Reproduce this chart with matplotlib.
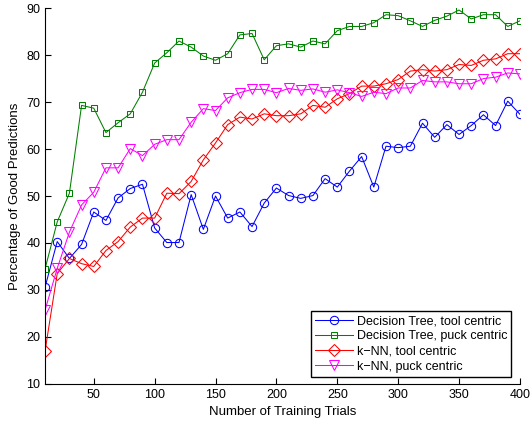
import matplotlib
matplotlib.use("Agg")
import matplotlib.pyplot as plt

plt.rcParams["font.family"] = ["Liberation Sans", "DejaVu Sans"]

trials = list(range(10, 401, 10))

dt_tool = [30.6, 40.3, 36.7, 39.7, 46.6, 44.8, 49.6, 51.6, 52.5, 43.2,
           40.1, 40.1, 50.3, 42.9, 50.0, 45.3, 46.6, 43.5, 48.5, 51.7,
           50.1, 49.5, 50.1, 53.7, 51.9, 55.3, 58.4, 51.9, 60.6, 60.3,
           60.6, 65.5, 62.5, 65.2, 63.1, 65.0, 67.3, 65.0, 70.2, 67.4]

dt_puck = [34.5, 44.5, 50.6, 69.3, 68.7, 63.5, 65.6, 67.5, 72.1, 78.3,
           80.5, 83.0, 81.7, 79.8, 78.9, 80.3, 84.3, 84.6, 79.0, 82.0,
           82.4, 81.7, 83.0, 82.4, 85.2, 86.1, 86.1, 86.9, 88.6, 88.4,
           87.3, 86.1, 87.4, 88.3, 89.6, 87.7, 88.6, 88.6, 86.1, 87.3]

knn_tool = [17.0, 33.5, 36.7, 35.6, 35.0, 38.4, 40.3, 43.4, 45.3, 45.3,
            50.6, 50.5, 53.1, 57.7, 61.3, 65.2, 66.8, 66.4, 67.5, 67.1,
            67.1, 67.5, 69.3, 68.9, 70.7, 71.8, 73.4, 73.4, 73.9, 74.8,
            76.6, 76.9, 76.6, 76.9, 78.0, 77.8, 78.9, 79.2, 80.3, 80.3]

knn_puck = [25.7, 34.6, 42.3, 48.1, 50.8, 56.0, 56.0, 60.1, 58.6, 61.0,
            62.0, 62.0, 65.7, 68.6, 68.2, 70.9, 72.0, 72.7, 72.7, 72.0,
            72.9, 72.5, 72.8, 72.1, 72.6, 72.0, 71.2, 72.1, 71.8, 73.0,
            73.0, 74.6, 74.3, 74.3, 73.9, 73.9, 75.0, 75.3, 76.2, 76.0]

labels = ["Decision Tree, tool centric", "Decision Tree, puck centric",
          "k\u2212NN, tool centric", "k\u2212NN, puck centric"]

fig = plt.figure(figsize=(5.3, 4.28), dpi=100)
ax = fig.add_axes([0.085, 0.103, 0.896, 0.878])

lw = 0.75
mew = 0.75
ax.plot(trials, dt_tool, color="blue", marker="o", ms=6, mfc="none", mew=mew, lw=lw, label=labels[0])
ax.plot(trials, dt_puck, color="green", marker="s", ms=4.8, mfc="none", mew=mew, lw=lw, label=labels[1])
ax.plot(trials, knn_tool, color="red", marker="D", ms=5.8, mfc="none", mew=mew, lw=lw, label=labels[2])
ax.plot(trials, knn_puck, color="magenta", marker="v", ms=7, mfc="none", mew=mew, lw=lw, label=labels[3])

ax.set_xlim(10, 400)
ax.set_ylim(10, 90)
ax.set_xticks([50, 100, 150, 200, 250, 300, 350, 400])
ax.set_yticks(range(10, 91, 10))
ax.spines["top"].set_visible(False)
ax.spines["right"].set_visible(False)
ax.tick_params(direction="in", length=4, labelsize=9)
ax.set_xlabel("Number of Training Trials", fontsize=9.5)
ax.set_ylabel("Percentage of Good Predictions", fontsize=9.5)

leg = ax.legend(loc="lower right", bbox_to_anchor=(0.982, 0.018), fontsize=9,
                fancybox=False, edgecolor="black", framealpha=1,
                borderpad=0.35, labelspacing=0.26, handlelength=3.0,
                handletextpad=0.3, borderaxespad=0)
leg.get_frame().set_linewidth(1.0)

fig.savefig("out.png", dpi=100)
